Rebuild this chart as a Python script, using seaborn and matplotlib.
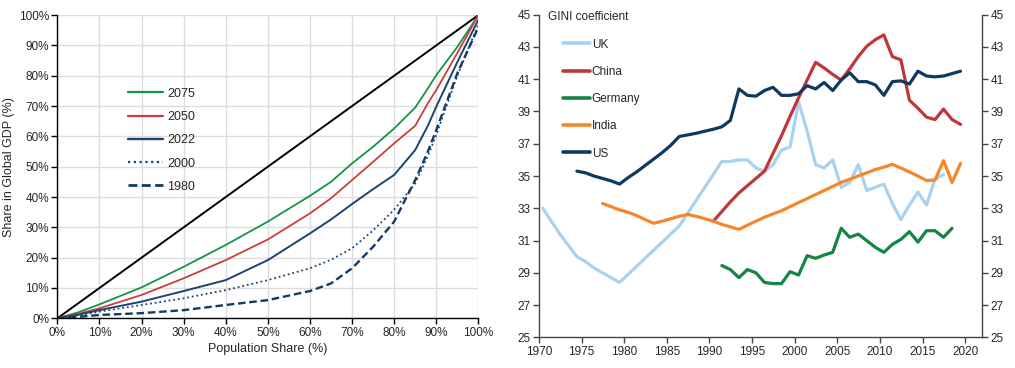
import numpy as np
import pandas as pd
import matplotlib
matplotlib.use("Agg")
import matplotlib.pyplot as plt
from matplotlib.lines import Line2D
import seaborn as sns

# ---- left panel: Lorenz curves of global GDP ----
pop_share = [0, 5, 10, 20, 30, 40, 50, 60, 65, 70, 75, 80, 85, 88, 90, 95, 100]
gdp_2075 = [0, 2.0, 4.6, 10.2, 17.0, 24.2, 31.9, 40.4, 45.0, 51.1, 56.6, 62.6, 69.5, 75.8, 80.2, 89.5, 100]
gdp_2050 = [0, 1.5, 3.3, 7.7, 13.2, 19.2, 26.0, 34.6, 39.6, 45.6, 51.6, 57.7, 63.5, 70.9, 75.3, 87.5, 100]
gdp_2022 = [0, 1.2, 2.7, 5.5, 9.0, 12.6, 19.2, 28.0, 32.6, 37.7, 42.6, 47.3, 55.5, 63.5, 69.8, 84.5, 98.5]
gdp_2000 = [0, 1.0, 2.2, 4.4, 6.6, 9.3, 12.6, 16.5, 19.3, 23.1, 29.0, 35.8, 44.5, 53.5, 60.5, 80.0, 97.0]
gdp_1980 = [0, 0.5, 1.1, 1.7, 2.7, 4.4, 6.0, 9.0, 11.5, 16.5, 23.6, 31.9, 45.6, 55.0, 62.1, 80.8, 96.0]
equality = [0, 100]
pct_ticks = [0, 10, 20, 30, 40, 50, 60, 70, 80, 90, 100]

# ---- right panel: GINI coefficients ----
uk_years = list(range(1970, 2018))
uk = [33.0, 32.2, 31.4, 30.7, 30.0, 29.7, 29.3, 29.0, 28.7, 28.4,
      28.9, 29.4, 29.9, 30.4, 30.9, 31.4, 31.9, 32.7, 33.5, 34.3,
      35.1, 35.9, 35.9, 36.0, 36.0, 35.5, 35.3, 35.7, 36.6, 36.8,
      39.6, 37.8, 35.7, 35.5, 36.0, 34.3, 34.6, 35.7, 34.1, 34.3,
      34.5, 33.3, 32.3, 33.2, 34.0, 33.2, 34.8, 35.1]
china_years = list(range(1990, 2020))
china = [32.2, 32.8, 33.4, 33.95, 34.4, 34.85, 35.3, 36.4, 37.5, 38.7,
         39.85, 40.95, 42.05, 41.7, 41.3, 40.95, 41.65, 42.4, 43.05, 43.45,
         43.75, 42.4, 42.2, 39.7, 39.2, 38.65, 38.5, 39.15, 38.5, 38.2]
germany_years = list(range(1991, 2019))
germany = [29.45, 29.2, 28.7, 29.2, 29.0, 28.4, 28.33, 28.33, 29.07, 28.86,
           30.06, 29.9, 30.1, 30.27, 31.76, 31.2, 31.4, 30.99, 30.58, 30.27,
           30.76, 31.07, 31.55, 30.9, 31.61, 31.61, 31.2, 31.76]
india_years = list(range(1977, 2020))
india = [33.3, 33.1, 32.9, 32.75, 32.55, 32.3, 32.07, 32.2, 32.35, 32.5,
         32.62, 32.5, 32.35, 32.2, 32.0, 31.85, 31.69, 31.95, 32.2, 32.45,
         32.65, 32.85, 33.1, 33.35, 33.6, 33.85, 34.1, 34.35, 34.6, 34.8,
         35.0, 35.2, 35.4, 35.55, 35.72, 35.5, 35.25, 35.0, 34.72, 34.75,
         35.95, 34.6, 35.78]
us_years = list(range(1974, 2020))
us = [35.3, 35.2, 35.0, 34.85, 34.7, 34.5,
      34.9, 35.25, 35.65, 36.05, 36.45, 36.9, 37.45, 37.55, 37.65, 37.78,
      37.9, 38.05, 38.45, 40.4, 40.0, 39.95, 40.3, 40.5, 40.0, 40.0,
      40.1, 40.6, 40.4, 40.8, 40.3, 40.95, 41.4, 40.85, 40.85, 40.65,
      40.0, 40.85, 40.9, 40.7, 41.5, 41.2, 41.15, 41.2, 41.35, 41.5]
countries = ["UK", "China", "Germany", "India", "US"]
year_ticks = list(range(1970, 2021, 5))
gini_ticks = list(range(25, 46, 2))

sns.set_theme(style="white")
plt.rcParams["font.family"] = ["Liberation Sans", "DejaVu Sans"]

fig = plt.figure(figsize=(10.15, 3.68), dpi=100)
ax1 = fig.add_axes([0.0565, 0.135, 0.4148, 0.824])
ax2 = fig.add_axes([0.531, 0.0834, 0.4368, 0.8766])

navy = "#1b4472"
lorenz = [
    ("2075", gdp_2075, "#17924a", "-", 1.3),
    ("2050", gdp_2050, "#c8403c", "-", 1.3),
    ("2022", gdp_2022, navy, "-", 1.4),
    ("2000", gdp_2000, navy, (0, (1, 1.6)), 1.3),
    ("1980", gdp_1980, "#143a66", (0, (3.2, 1.6)), 1.7),
]
sns.lineplot(x=equality, y=equality, color="black", linewidth=1.4, ax=ax1)
handles = []
for name, vals, col, ls, lw in lorenz:
    sns.lineplot(x=pop_share, y=vals, color=col, linewidth=lw, linestyle=ls, ax=ax1)
    handles.append(Line2D([], [], color=col, linewidth=lw + 0.3, linestyle=ls, label=name))

ax1.set_xlim(0, 100)
ax1.set_ylim(0, 100)
ax1.set_xticks(pct_ticks)
ax1.set_yticks(pct_ticks)
ax1.set_xticklabels([f"{t}%" for t in pct_ticks])
ax1.set_yticklabels([f"{t}%" for t in pct_ticks])
ax1.grid(True, color="#dcdcdc", linewidth=1.0)
ax1.set_axisbelow(True)
for s in ["top", "right"]:
    ax1.spines[s].set_visible(False)
for s in ["left", "bottom"]:
    ax1.spines[s].set_color("black")
    ax1.spines[s].set_linewidth(1.0)
ax1.tick_params(axis="both", direction="out", length=4, width=1, color="black",
                bottom=True, left=True, labelsize=8.5, pad=2)
ax1.set_xlabel("Population Share (%)", fontsize=9, labelpad=3)
ax1.set_ylabel("Share in Global GDP (%)", fontsize=9, labelpad=3)
ax1.legend(handles=handles, loc="upper left", bbox_to_anchor=(0.168, 0.76),
           frameon=False, fontsize=9, handlelength=2.8, handletextpad=0.3,
           labelspacing=0.9, borderpad=0, borderaxespad=0)

# right panel
mid_year = 0.45
rows = []
for name, yrs, vals in [("UK", uk_years, uk), ("China", china_years, china),
                        ("Germany", germany_years, germany), ("India", india_years, india),
                        ("US", us_years, us)]:
    for yr, v in zip(yrs, vals):
        rows.append({"country": name, "year": yr + mid_year, "gini": v})
gini_df = pd.DataFrame(rows)

palette = {"UK": "#a9d1f0", "China": "#c0373a", "Germany": "#168443",
           "India": "#f7862a", "US": "#0e3a62"}
sns.lineplot(data=gini_df, x="year", y="gini", hue="country", hue_order=countries,
             palette=palette, linewidth=2.3, legend=False, ax=ax2)

ax2.set_xlim(1970, 2022)
ax2.set_ylim(25, 45)
ax2.set_xticks(year_ticks)
ax2.set_yticks(gini_ticks)
ax2.set_xlabel("")
ax2.set_ylabel("")
ax2.spines["top"].set_visible(False)
for s in ["left", "right", "bottom"]:
    ax2.spines[s].set_color("#444444")
    ax2.spines[s].set_linewidth(1.0)
ax2.tick_params(axis="both", direction="out", length=4, width=1, color="#444444",
                labelsize=8.5, pad=2)
ax2.tick_params(axis="y", left=True, right=True, labelleft=True, labelright=True)
ax2.tick_params(axis="x", bottom=True)

ax2.text(0.02, 0.993, "GINI coefficient", transform=ax2.transAxes,
         fontsize=8.5, ha="left", va="center")
leg_handles = [Line2D([], [], color=palette[c], linewidth=2.6, label=c) for c in countries]
ax2.legend(handles=leg_handles, loc="upper left", bbox_to_anchor=(0.054, 0.926),
           frameon=False, fontsize=8.5, handlelength=2.3, handletextpad=0.15,
           labelspacing=1.29, borderpad=0, borderaxespad=0)

fig.savefig("out.png", dpi=100)
